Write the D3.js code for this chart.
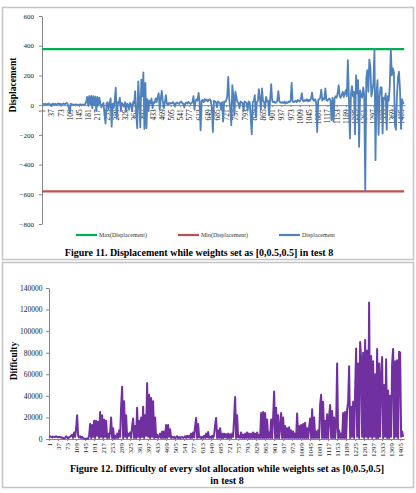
<!DOCTYPE html>
<html>
<head>
<meta charset="utf-8">
<script src="https://cdnjs.cloudflare.com/ajax/libs/d3/7.8.5/d3.min.js"></script>
<style>
  body { margin: 0; background: #fff; }
  text { font-family: "Liberation Serif", "Times New Roman", serif; }
</style>
</head>
<body>
<script>

// number of slots on the category axis
var slotCount = 1420;

// slots (every 4th slot, about one pixel each)
var slots = d3.range(1, slotCount, 4);

// category labels shown on both x axes
var slotLabels = [1, 37, 73, 109, 145, 181, 217, 253, 289, 325, 361, 397, 433, 469, 505,
  541, 577, 613, 649, 685, 721, 757, 793, 829, 865, 901, 937, 973, 1009, 1045, 1081,
  1117, 1153, 1189, 1225, 1261, 1297, 1333, 1369, 1405];

// figure 11, displacement per sampled slot
var displacement = [
  5, 8, 3, 10, 6, 4, 12, 8, 5, -5, 10, 7, 6, 9, 4, 8, 12, 6, 10, 5,
  8, 12, 6, 10, 15, 8, -15, -50, 10, 5, 3, 4, 2, 5, 3, 2, 4, 3, 5, 2,
  4, 3, 6, 20, 55, 0, 60, 5, 62, -20, 60, 0, 58, -40, 55, 0, 50, 10, -15, 5,
  15, -60, -125, 10, 20, -30, 10, 45, -145, 10, -20, 30, 118, -90, 20, 10, 50, -40, 15, 5,
  -10, 20, -45, 10, 5, -30, 15, 5, -40, 20, 10, 95, -60, -155, 160, 30, -150, 172, 60, 220,
  -160, 150, -155, 40, -40, 30, 10, 45, -20, 20, 15, 45, 20, 55, 80, -30, 40, 96, 30, -20,
  15, 67, 10, 5, 15, 8, 15, 12, 20, 10, -10, 15, 18, 12, 8, 20, 25, 15, 10, -15,
  12, 18, 10, 22, 15, 8, 12, 20, 60, -30, 25, 40, 30, 82, 20, -170, 30, 35, 20, 40,
  30, 38, 25, 35, 40, 30, -20, -180, 30, 25, 20, -15, 25, 20, 15, -30, 20, -110, 25, 20,
  30, 60, 190, 40, -25, -135, 135, 60, -67, 90, 55, 20, 15, -20, 25, 20, 15, -40, 25, 20,
  15, -35, 25, 20, -80, -195, 20, 30, 67, -80, 20, 30, 108, 40, -30, 112, 30, 20, -20, 56,
  25, 30, -67, 40, 141, 30, 20, 25, 15, 20, 30, 94, 25, 20, 15, 20, 15, 25, 10, 20,
  15, 25, 20, 30, 150, 25, 20, 25, 30, 20, 35, 30, 25, 40, 80, 30, 25, 35, 30, 40,
  25, 35, 30, 45, 85, 35, 30, 40, 20, -180, 35, 40, 50, 105, 30, 45, 40, 112, 35, 30,
  40, 45, 30, -100, 50, -110, 45, 60, 50, 80, 135, 60, 50, 70, 90, 55, 80, 100, 60, 303,
  50, -225, 70, 128, 60, 90, -195, 200, 80, 168, -280, 100, 60, 50, 120, 70, -580, 180, 235, 90,
  307, 258, 60, 100, 150, 377, -370, 80, 168, -200, 60, 120, 119, -190, 50, 40, 78, -165, 60, 30,
  130, 377, 200, 247, 220, -135, -165, 60, 186, 225, 100, -160, 40, 15, 10
];

// figure 12, difficulty per sampled slot
var difficulty = [
  2000, 2500, 2000, 1500, 2200, 2000, 1800, 2500, 2000, 1500, 2000, 1800, 1200, 1500, 800, 500, 1000, 2500, 1500, 800,
  1500, 2000, 3000, 4000, 1000, 6000, 2000, 10000, 22000, 3000, 1500, 2500, 1000, 2000, 800, 300, 200, 200, 300, 500,
  3000, 14000, 1000, 13000, 2000, 17000, 1000, 17000, 3000, 16000, 1000, 25000, 2000, 22000, 1000, 18000, 2000, 17000, 1000, 5000,
  1000, 6000, 20000, 1000, 10000, 500, 3000, 1000, 5000, 1000, 8000, 2000, 30000, 48500, 1000, 35000, 2000, 22000, 1000, 5000,
  3000, 6000, 1000, 12000, 19000, 1000, 12000, 1000, 29000, 2000, 17000, 1000, 20000, 2000, 30000, 1000, 22000, 3000, 52000, 2000,
  41000, 1000, 38000, 2000, 35000, 1000, 20000, 1500, 4000, 1000, 2000, 5000, 1000, 7000, 1000, 7000, 1000, 13000, 1000, 13000,
  2000, 9000, 1000, 2000, 1200, 2000, 800, 1500, 2500, 1000, 1800, 800, 1500, 2000, 1000, 1500, 2500, 1000, 3000, 1500,
  3000, 1000, 5000, 1000, 6000, 1500, 12000, 19500, 1000, 14000, 1500, 2000, 800, 2000, 1000, 3000, 1000, 5000, 1500, 6500,
  1000, 2000, 1000, 3000, 1000, 4000, 13000, 19500, 1000, 8000, 1000, 10000, 1000, 5000, 1000, 5000, 1500, 4500, 1000, 5000,
  1000, 4500, 1000, 5000, 2000, 20000, 39000, 1000, 22000, 1500, 3000, 1000, 6000, 1000, 4000, 1000, 5000, 1000, 6000, 1000,
  5000, 1000, 5000, 1000, 6000, 1000, 5000, 1000, 6000, 1000, 4000, 1000, 24000, 1000, 25000, 1000, 24000, 1000, 18000, 1000,
  6000, 1000, 18000, 1000, 20000, 44000, 1000, 29000, 1000, 22000, 1000, 10000, 24000, 1000, 20000, 1000, 12000, 1000, 10000, 1000,
  11000, 1000, 8000, 1000, 7000, 1000, 5000, 1000, 23700, 1000, 12000, 1000, 13000, 1000, 14000, 1000, 15000, 1000, 10000, 1000,
  11000, 19000, 1000, 27500, 1000, 20000, 1000, 7000, 1000, 8000, 1000, 32000, 41000, 1000, 34500, 1000, 17000, 1000, 23000, 1000,
  21000, 31500, 1000, 26000, 1000, 20000, 1000, 12000, 70000, 1000, 8000, 1000, 5000, 1000, 24000, 1000, 25000, 1000, 27000, 34500,
  67500, 1000, 30000, 2000, 34500, 1000, 45000, 84000, 2000, 70000, 1000, 90000, 75000, 2000, 80000, 1000, 91700, 2000, 82000, 1000,
  126500, 2000, 77000, 1000, 72000, 2000, 60000, 1000, 83500, 1000, 70000, 2000, 60000, 76000, 1000, 50000, 2000, 74000, 1000, 45000,
  1000, 40000, 2000, 70000, 83500, 1000, 72000, 2000, 73000, 1000, 81000, 80000, 2000, 7000, 2000
];

// y tick values
var dispTicks = [600, 400, 200, 0, -200, -400, -600, -800];
var diffTicks = [0, 20000, 40000, 60000, 80000, 100000, 120000, 140000];

// legend entries of figure 11
var legendNames = ["Max(Displacement)", "Min(Displacement)", "Displacement"];
var legendColors = ["#00B050", "#C0504D", "#4F81BD"];

var fullwidth = 416;
var fullheight = 493;

// plain numbers, no thousands separator
var plain = d3.format("d");

var svg = d3.select("body")
  .append("svg")
   .attr("width", fullwidth)
   .attr("height", fullheight);

// frames around both figures
svg.append("rect")
  .attr("x", 2.5).attr("y", 7.5)
  .attr("width", 411).attr("height", 252)
  .style("fill", "none").style("stroke", "#c4c4c4").style("stroke-width", 1.5);

svg.append("rect")
  .attr("x", 2.5).attr("y", 262.5)
  .attr("width", 411).attr("height", 225)
  .style("fill", "none").style("stroke", "#c4c4c4").style("stroke-width", 1.5);

function styleAxis(g, size) {
  g.select(".domain").style("stroke", "#868686");
  g.selectAll(".tick line").style("stroke", "#868686");
  g.selectAll("text")
    .style("font-family", "'Liberation Serif', serif")
    .style("font-size", size + "px")
    .style("fill", "#222");
}

// ---------- figure 11 ----------

var xTop = d3.scaleLinear()
  .domain([0.5, slotCount + 0.5])
  .range([42, 405]);

var yTop = d3.scaleLinear()
  .domain([-800, 600])
  .range([224, 16]);

var maxDisp = d3.max(displacement);
var minDisp = d3.min(displacement);

// y axis
var yAxisTop = svg.append("g")
  .attr("transform", "translate(42,0)")
  .call(d3.axisLeft(yTop).tickValues(dispTicks).tickFormat(plain)
    .tickSize(3).tickPadding(5).tickSizeOuter(0));
styleAxis(yAxisTop, 7);

// x axis crossing at zero
var xAxisTop = svg.append("g")
  .attr("transform", "translate(0," + yTop(0) + ")")
  .call(d3.axisBottom(xTop).tickValues(slotLabels).tickFormat(plain)
    .tickSize(2).tickSizeOuter(0));
styleAxis(xAxisTop, 7.5);
xAxisTop.selectAll("text")
  .attr("transform", "rotate(-90)")
  .attr("x", -4)
  .attr("y", 0)
  .attr("dy", "0.33em")
  .style("text-anchor", "end");

var lineTop = d3.line()
  .x(function(d, i) { return xTop(slots[i]); })
  .y(function(d) { return yTop(d); });

// max and min as flat series, then the displacement itself
svg.append("path")
  .datum(slots.map(function() { return maxDisp; }))
  .attr("d", lineTop)
  .style("fill", "none").style("stroke", legendColors[0]).style("stroke-width", 2.2);

svg.append("path")
  .datum(slots.map(function() { return minDisp; }))
  .attr("d", lineTop)
  .style("fill", "none").style("stroke", legendColors[1]).style("stroke-width", 2.2);

svg.append("path")
  .datum(displacement)
  .attr("d", lineTop)
  .style("fill", "none").style("stroke", legendColors[2])
  .style("stroke-width", 1.8).style("stroke-linejoin", "round");

// y title
svg.append("text")
  .attr("transform", "translate(16,85) rotate(-90)")
  .style("text-anchor", "middle")
  .style("font-weight", "bold")
  .style("font-size", "9.5px")
  .text("Displacement");

// legend
var legend = svg.selectAll(".legend")
  .data(legendNames)
  .enter().append("g")
  .attr("class", "legend")
  .attr("transform", function(d, i) { return "translate(" + [76, 178, 279][i] + ",235)"; });

legend.append("line")
  .attr("x1", 0).attr("x2", 21)
  .style("stroke", function(d, i) { return legendColors[i]; })
  .style("stroke-width", 2.2);

legend.append("text")
  .attr("x", 23)
  .attr("dy", "0.33em")
  .style("font-size", "6px")
  .style("fill", "#333")
  .text(function(d) { return d; });

// caption
svg.append("text")
  .attr("x", 199)
  .attr("y", 255.5)
  .style("text-anchor", "middle")
  .style("font-weight", "bold")
  .style("font-size", "10px")
  .text("Figure 11. Displacement while weights set as [0,0.5,0.5] in test 8");

// ---------- figure 12 ----------

var xBot = d3.scaleLinear()
  .domain([0.5, slotCount + 0.5])
  .range([49, 404]);

var yBot = d3.scaleLinear()
  .domain([0, 140000])
  .range([439, 288]);

var yAxisBot = svg.append("g")
  .attr("transform", "translate(49,0)")
  .call(d3.axisLeft(yBot).tickValues(diffTicks).tickFormat(plain)
    .tickSize(3).tickPadding(3.5).tickSizeOuter(0));
styleAxis(yAxisBot, 7.5);

var xAxisBot = svg.append("g")
  .attr("transform", "translate(0," + yBot(0) + ")")
  .call(d3.axisBottom(xBot).tickValues(slotLabels).tickFormat(plain)
    .tickSize(2).tickSizeOuter(0));
styleAxis(xAxisBot, 7);
xAxisBot.selectAll("text")
  .attr("transform", "rotate(-90)")
  .attr("x", -4)
  .attr("y", 0)
  .attr("dy", "0.33em")
  .style("text-anchor", "end");

var lineBot = d3.line()
  .x(function(d, i) { return xBot(slots[i]); })
  .y(function(d) { return yBot(d); });

svg.append("path")
  .datum(difficulty)
  .attr("d", lineBot)
  .style("fill", "none").style("stroke", "#7030A0")
  .style("stroke-width", 2).style("stroke-linejoin", "round");

svg.append("text")
  .attr("transform", "translate(17,361) rotate(-90)")
  .style("text-anchor", "middle")
  .style("font-weight", "bold")
  .style("font-size", "9.5px")
  .text("Difficulty");

svg.append("text")
  .attr("x", 227)
  .attr("y", 472)
  .style("text-anchor", "middle")
  .style("font-weight", "bold")
  .style("font-size", "10px")
  .text("Figure 12. Difficulty of every slot allocation while weights set as [0,0.5,0.5]");

svg.append("text")
  .attr("x", 227)
  .attr("y", 483.5)
  .style("text-anchor", "middle")
  .style("font-weight", "bold")
  .style("font-size", "10px")
  .text("in test 8");

</script>
</body>
</html>
